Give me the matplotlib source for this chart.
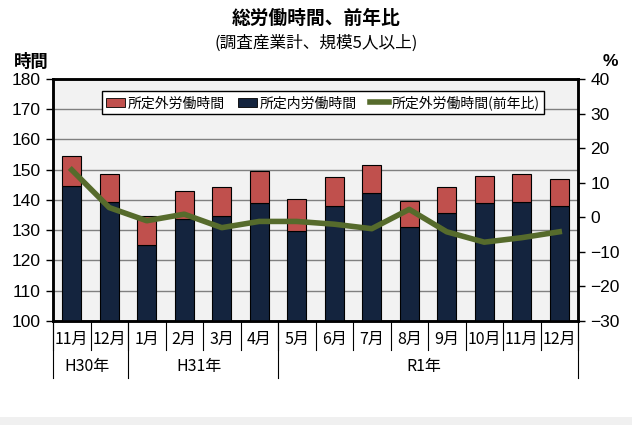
import matplotlib
matplotlib.use('Agg')
import matplotlib.pyplot as plt
from matplotlib.patches import Rectangle, Patch
from matplotlib.lines import Line2D

plt.rcParams['font.family'] = ['Liberation Sans', 'Noto Sans CJK JP']

# data
months = ['11月', '12月', '1月', '2月', '3月', '4月', '5月', '6月', '7月', '8月', '9月', '10月', '11月', '12月']
scheduled = [144.5, 139.2, 125.0, 133.6, 134.6, 139.1, 129.9, 137.9, 142.4, 131.0, 135.6, 138.9, 139.2, 137.9]
overtime = [10.2, 9.5, 9.6, 9.3, 9.6, 10.4, 10.3, 9.8, 9.3, 8.6, 8.8, 9.1, 9.5, 9.2]
overtime_yoy = [13.7, 2.8, -1.0, 0.9, -3.0, -1.2, -1.2, -2.0, -3.3, 2.3, -4.2, -7.2, -5.9, -4.2]
year_labels = ['H30年', 'H31年', 'R1年']
year_counts = [2, 4, 8]

red = '#C0504D'
navy = '#14243E'
green = '#566B2C'
jp = ['Noto Sans CJK JP']

fig = plt.figure(figsize=(6.32, 4.25), dpi=100)
fig.patch.set_facecolor('white')
# light band at the bottom of the image
fig.patches.append(Rectangle((0, 0), 1, 8 / 425, transform=fig.transFigure,
                             facecolor='#F0F0F0', edgecolor='none'))

ax = fig.add_axes([53 / 632, 1 - 321 / 425, 525 / 632, 242 / 425])
ax.set_facecolor('#F2F2F2')
x = list(range(len(months)))

ax.bar(x, scheduled, width=0.5, color=navy, edgecolor='black', linewidth=0.8, zorder=3)
ax.bar(x, overtime, width=0.5, bottom=scheduled, color=red, edgecolor='black', linewidth=0.8, zorder=3)

ax.set_ylim(100, 180)
ax.set_yticks(range(100, 181, 10))
ax.set_xlim(-0.5, len(months) - 0.5)
ax.set_xticks([])
ax.grid(axis='y', color='#808080', linewidth=1, zorder=1)
for s in ax.spines.values():
    s.set_linewidth(1.8)
    s.set_color('black')
ax.tick_params(axis='y', direction='out', length=5, width=1, labelsize=12.5, pad=4)

ax2 = ax.twinx()
ax2.plot(x, overtime_yoy, color=green, linewidth=4, solid_joinstyle='round', zorder=5)
ax2.set_ylim(-30, 40)
ax2.set_yticks(range(-30, 41, 10))
ax2.tick_params(axis='y', direction='out', length=5, width=1, labelsize=12.5, pad=4)
for s in ax2.spines.values():
    s.set_linewidth(1.8)

# category table under the axis
tr = ax.get_xaxis_transform()
for i in range(len(months) + 1):
    ax.plot([i - 0.5, i - 0.5], [0, -29 / 242], transform=tr, color='black',
            linewidth=0.8, clip_on=False)
for i, m in enumerate(months):
    ax.text(i, -18 / 242, m, transform=tr, ha='center', va='center', fontsize=11.5,
            family=jp)
start = 0
for lab, n in zip(year_labels, year_counts):
    ax.plot([start - 0.5, start - 0.5], [0, -57 / 242], transform=tr, color='black',
            linewidth=0.8, clip_on=False)
    ax.text(start + (n - 1) / 2 - 0.1, -46 / 242, lab, transform=tr, ha='center', va='center',
            fontsize=11.5, family=jp)
    start += n
ax.plot([start - 0.5, start - 0.5], [0, -57 / 242], transform=tr, color='black',
        linewidth=0.8, clip_on=False)

handles = [Patch(facecolor=red, edgecolor='black', linewidth=0.6),
           Patch(facecolor=navy, edgecolor='black', linewidth=0.6),
           Line2D([], [], color=green, linewidth=4)]
labels = ['所定外労働時間', '所定内労働時間', '所定外労働時間(前年比)']
leg = ax2.legend(handles, labels, loc='upper center', bbox_to_anchor=(0.514, 0.978), ncol=3,
                 frameon=True, fancybox=False, edgecolor='black', facecolor='white',
                 framealpha=1, handlelength=1.4, handleheight=0.7,
                 handletextpad=0.2, columnspacing=0.9, borderpad=0.3,
                 prop={'family': jp, 'size': 10})
leg.get_frame().set_linewidth(1)

fig.text(316 / 632, 1 - 18 / 425, '総労働時間、前年比', ha='center', va='center',
         fontsize=13.5, fontweight='bold', family=jp)
fig.text(316 / 632, 1 - 43 / 425, '(調査産業計、規模5人以上)', ha='center', va='center',
         fontsize=12, family=jp)
fig.text(31 / 632, 1 - 62 / 425, '時間', ha='center', va='center', fontsize=12.5,
         fontweight='bold', family=jp)
fig.text(610 / 632, 1 - 62 / 425, '%', ha='center', va='center', fontsize=12.5,
         fontweight='bold')

fig.savefig('out.png', dpi=100)
